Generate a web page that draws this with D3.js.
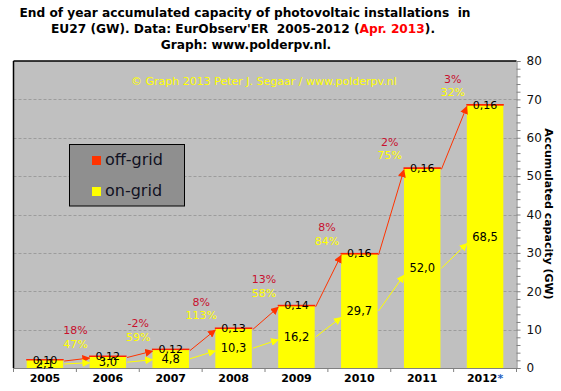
<!DOCTYPE html>
<html><head><meta charset="utf-8">
<script src="https://cdn.jsdelivr.net/npm/d3@7"></script>
<style>body{margin:0;background:#fff}svg{display:block}</style>
</head><body>
<script>
const years = ["2005","2006","2007","2008","2009","2010","2011","2012"];
const onGrid = [2.1, 3.0, 4.8, 10.3, 16.2, 29.7, 52.0, 68.5];
const offGrid = [0.10, 0.12, 0.12, 0.13, 0.14, 0.16, 0.16, 0.16];
const offGridGrowth = [18, -2, 8, 13, 8, 2, 3];
const onGridGrowth = [47, 59, 113, 58, 84, 75, 32];
const yTicks = [0,10,20,30,40,50,60,70,80];

const W = 561, H = 391;
const L = 13.5, R = 516.5, T = 61, B = 368;
const svg = d3.select("body").append("svg").attr("width", W).attr("height", H);
const defs = svg.append("defs");
function marker(id, color){
  defs.append("marker").attr("id", id).attr("viewBox","0 0 10 10").attr("refX",9).attr("refY",5)
    .attr("markerWidth",8).attr("markerHeight",8).attr("markerUnits","userSpaceOnUse").attr("orient","auto")
    .append("path").attr("d","M0,0L10,5L0,10Z").attr("fill", color);
}
marker("ar","#FF3300"); marker("ay","#FFFF00");

const x = d3.scaleBand().domain(years).range([L, R]).paddingInner(0.42).paddingOuter(0.21);
const y = d3.scaleLinear().domain([0, 80]).range([B, T]);
const fmt1 = v => d3.format(".1f")(v).replace(".", ",");
const fmt2 = v => d3.format(".2f")(v).replace(".", ",");

// plot background
svg.append("rect").attr("x", L).attr("y", T).attr("width", R - L).attr("height", B - T).attr("fill", "#C0C0C0");
// grid
svg.append("g").selectAll("line").data(yTicks.filter(d => d > 0 && d < 80)).join("line")
  .attr("x1", L).attr("x2", R).attr("y1", d => Math.round(y(d)) + 0.5).attr("y2", d => Math.round(y(d)) + 0.5)
  .attr("stroke", "#9C9C9C").attr("stroke-dasharray", "3,2");
// borders
svg.append("line").attr("x1", L).attr("x2", R).attr("y1", T).attr("y2", T).attr("stroke", "#000").attr("stroke-width", 1.5);
svg.append("line").attr("x1", L).attr("x2", L).attr("y1", T).attr("y2", B).attr("stroke", "#000").attr("stroke-width", 1.5);

// right axis
const yAxis = d3.axisRight(y).tickValues(d3.range(0, 81, 2)).tickSize(4)
  .tickFormat(d => d % 10 === 0 ? d : "");
const gy = svg.append("g").attr("transform", `translate(${R},0)`).call(yAxis);
gy.select(".domain").attr("stroke", "#808080");
gy.selectAll(".tick line").attr("stroke", "#808080");
gy.selectAll(".tick text").attr("x", 10).attr("fill", "#111").style("font", "12px 'DejaVu Sans'");

// bottom axis
const gx = svg.append("g").attr("transform", `translate(0,${B})`).call(d3.axisBottom(x).tickSize(0).tickPadding(0));
gx.select(".domain").attr("stroke", "#808080").attr("d", `M${L},0.5H${R}`);
gx.selectAll(".tick text").attr("y", 14).attr("dy", 0).style("font", "bold 11px 'DejaVu Sans'").attr("fill", "#000")
  .text(null)
  .each(function(d){
    const t = d3.select(this);
    t.append("tspan").text(d);
    if (d === "2012") t.append("tspan").attr("fill", "#1F5FBF").text("*");
  });
gx.append("g").selectAll("line").data(d3.range(years.length + 1)).join("line")
  .attr("x1", i => L + i * x.step()).attr("x2", i => L + i * x.step()).attr("y1", 0).attr("y2", 4).attr("stroke", "#808080");

// bars
const bars = svg.append("g");
bars.selectAll("rect.on").data(years).join("rect").attr("class","on")
  .attr("x", d => x(d)).attr("width", x.bandwidth())
  .attr("y", (d,i) => y(onGrid[i])).attr("height", (d,i) => B - y(onGrid[i])).attr("fill", "#FFFF00");
bars.selectAll("rect.off").data(years).join("rect").attr("class","off")
  .attr("x", d => x(d)).attr("width", x.bandwidth())
  .attr("y", (d,i) => y(onGrid[i] + offGrid[i])).attr("height", (d,i) => y(onGrid[i]) - y(onGrid[i] + offGrid[i]))
  .attr("fill", "#FF2200").attr("stroke", "#FF2200").attr("stroke-width", 1);

const barTop = i => y(onGrid[i] + offGrid[i]);
const barMid = i => (y(onGrid[i]) + B) / 2;

// arrows
const pairs = d3.range(years.length - 1);
svg.append("g").selectAll("line").data(pairs).join("line")
  .attr("x1", i => x(years[i]) + x.bandwidth() + 1).attr("y1", i => barTop(i) + 1.5)
  .attr("x2", i => x(years[i+1])).attr("y2", i => barTop(i+1) + 2)
  .attr("stroke", "#FF3300").attr("stroke-width", 1).attr("marker-end", "url(#ar)");
svg.append("g").selectAll("line").data(pairs).join("line")
  .attr("x1", i => x(years[i]) + x.bandwidth() + 1).attr("y1", i => barMid(i))
  .attr("x2", i => x(years[i+1])).attr("y2", i => barMid(i+1) + Math.min(7, 0.25 * (barMid(i) - barMid(i+1))))
  .attr("stroke", "#FFFF00").attr("stroke-width", 1).attr("marker-end", "url(#ay)");

// value labels
svg.append("g").selectAll("text").data(years).join("text")
  .attr("x", d => x(d) + x.bandwidth() / 2).attr("y", (d,i) => barMid(i) + 4)
  .attr("text-anchor", "middle").style("font", "11.5px 'DejaVu Sans'").attr("fill", "#000")
  .text((d,i) => fmt1(onGrid[i]));
svg.append("g").selectAll("text").data(years).join("text")
  .attr("x", d => x(d) + x.bandwidth() / 2).attr("y", (d,i) => barTop(i) + 4)
  .attr("text-anchor", "middle").style("font", "11px 'DejaVu Sans'").attr("fill", "#000")
  .text((d,i) => fmt2(offGrid[i]));

// growth labels
const gxp = i => L + (i + 1) * x.step() - 1;
svg.append("g").selectAll("text").data(pairs).join("text")
  .attr("x", gxp).attr("y", i => barTop(i+1) - 22)
  .attr("text-anchor", "middle").style("font", "11px 'DejaVu Sans'").attr("fill", "#C8102E")
  .text(i => offGridGrowth[i] + "%");
svg.append("g").selectAll("text").data(pairs).join("text")
  .attr("x", gxp).attr("y", i => barTop(i+1) - 8.5)
  .attr("text-anchor", "middle").style("font", "11px 'DejaVu Sans'").attr("fill", "#FFFF00")
  .text(i => onGridGrowth[i] + "%");

// copyright
svg.append("text").attr("x", 131).attr("y", 84.5).style("font", "11px 'DejaVu Sans'").attr("fill", "#FFFF00")
  .text("© Graph 2013 Peter J. Segaar / www.polderpv.nl");

// legend
const lg = svg.append("g");
lg.append("rect").attr("x", 69.5).attr("y", 144.5).attr("width", 115).attr("height", 61.5).attr("fill", "#8F8F8F").attr("stroke", "#000");
const legendItems = [["off-grid", "#FF3300"], ["on-grid", "#FFFF00"]];
legendItems.forEach(([name, c], k) => {
  lg.append("rect").attr("x", 92).attr("y", 156 + k * 31).attr("width", 9).attr("height", 9).attr("fill", c);
  lg.append("text").attr("x", 105).attr("y", 164.5 + k * 31).style("font", "16px 'DejaVu Sans'").attr("fill", "#111122").text(name);
});

// y axis title
svg.append("text").attr("transform", "translate(545,214) rotate(90)").attr("text-anchor", "middle")
  .style("font", "bold 11px 'DejaVu Sans'").attr("fill", "#000").text("Accumulated capacity (GW)");

// title
const title = svg.append("g").style("font", "bold 12.2px 'DejaVu Sans'")
  .attr("fill", "#000").attr("text-anchor", "middle");
title.append("text").attr("x", 245).attr("y", 17).text("End of year accumulated capacity of photovoltaic installations \u00A0in");
const t2 = title.append("text").attr("x", 243).attr("y", 33);
t2.append("tspan").text("EU27 (GW). Data: EurObserv'ER \u00A02005-2012 (");
t2.append("tspan").attr("fill", "#FF0000").text("Apr. 2013");
t2.append("tspan").text(").");
title.append("text").attr("x", 246).attr("y", 49).text("Graph: www.polderpv.nl.");
</script>
</body></html>
